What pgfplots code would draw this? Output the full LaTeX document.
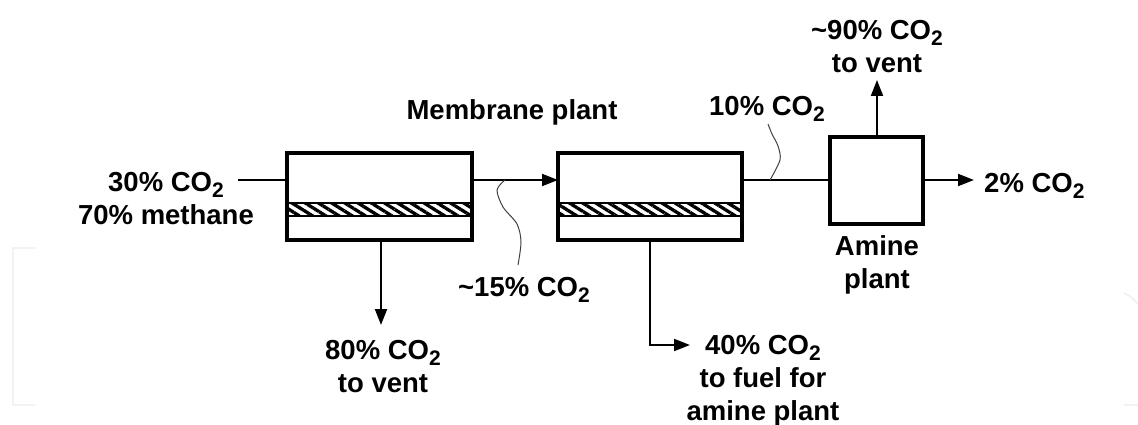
\documentclass[border=0pt]{standalone}
\usepackage{fontspec}
\setmainfont{Liberation Sans}
\usepackage{pgfplots}
\pgfplotsset{compat=1.18}
\usetikzlibrary{arrows.meta,patterns.meta}
\newcommand\co{CO\raisebox{-6pt}{\fontsize{21}{21}\selectfont 2}}
\begin{document}
\begin{tikzpicture}[every node/.style={font=\fontsize{27.5}{33}\selectfont\bfseries, align=center, inner sep=0pt}]
\begin{axis}[
  width=1138pt, height=425pt, scale only axis,
  xmin=0, xmax=1138, ymin=0, ymax=425, y dir=reverse,
  axis lines=none, clip=false,
  tick style={draw=none}, xtick=\empty, ytick=\empty,
]
% faint background marks
\addplot[color=black!5, line width=2pt] coordinates {(35,248) (13,248) (13,405) (35,405)};
\addplot[color=black!5, line width=2pt, smooth] coordinates {(1124,293) (1131,297) (1138,304)};
\addplot[color=black!5, line width=2pt] coordinates {(1124,405) (1138,405)};

% hatched membranes
\addplot[draw=black, line width=1.2pt, pattern={Lines[angle=-32,distance=7pt,line width=3.3pt]}] coordinates {(287,203) (472,203) (472,216) (287,216)} -- cycle;
\addplot[draw=black, line width=1.2pt, pattern={Lines[angle=-32,distance=7pt,line width=3.3pt]}] coordinates {(558,203) (742,203) (742,216) (558,216)} -- cycle;

% membrane boxes
\addplot[black, line width=3.5pt, line join=miter] coordinates {(287,153) (472,153) (472,240) (287,240)} -- cycle;
\addplot[black, line width=3.5pt, line join=miter] coordinates {(558,153) (742,153) (742,240) (558,240)} -- cycle;
% amine box
\addplot[black, line width=3.2pt, line join=miter] coordinates {(830,137) (923,137) (923,224) (830,224)} -- cycle;

% flow lines
\addplot[black, line width=2pt] coordinates {(238,180) (287,180)};
\addplot[black, line width=2pt, -{Triangle[length=16pt,width=12pt]}] coordinates {(472,180) (558,180)};
\addplot[black, line width=2pt] coordinates {(742,180) (830,180)};
\addplot[black, line width=2pt, -{Triangle[length=16pt,width=12pt]}] coordinates {(923,180) (974,180)};
\addplot[black, line width=2pt, -{Triangle[length=16pt,width=12pt]}] coordinates {(877,137) (877,80)};
\addplot[black, line width=2pt, -{Triangle[length=16pt,width=12pt]}] coordinates {(381,240) (381,325)};
\addplot[black, line width=2pt, line join=miter, -{Triangle[length=16pt,width=12pt]}] coordinates {(650,240) (650,345) (690,345)};

% squiggle leaders
\addplot[black!75, line width=1pt, smooth] coordinates {(505,180) (497,190) (503,207) (517,224) (521,242) (518,265)};
\addplot[black!75, line width=1pt, smooth] coordinates {(770,180) (780,160) (778,146) (772,134) (768,124)};

% labels
\node at (axis cs:512,112) {Membrane plant};
\node at (axis cs:166,199) {30\% \co\\70\% methane};
\node at (axis cs:383,367) {80\% \co\\to vent};
\node at (axis cs:524,290) {\textasciitilde15\% \co};
\node at (axis cs:767,109) {10\% \co};
\node at (axis cs:877,47) {\textasciitilde90\% \co\\to vent};
\node[anchor=west] at (axis cs:984,186) {2\% \co};
\node at (axis cs:877,265) {Amine\\plant};
\node at (axis cs:763,381) {40\% \co\\to fuel for\\amine plant};
\end{axis}
\pgfresetboundingbox
\path (0,0) rectangle (1138pt,425pt);
\end{tikzpicture}
\end{document}
